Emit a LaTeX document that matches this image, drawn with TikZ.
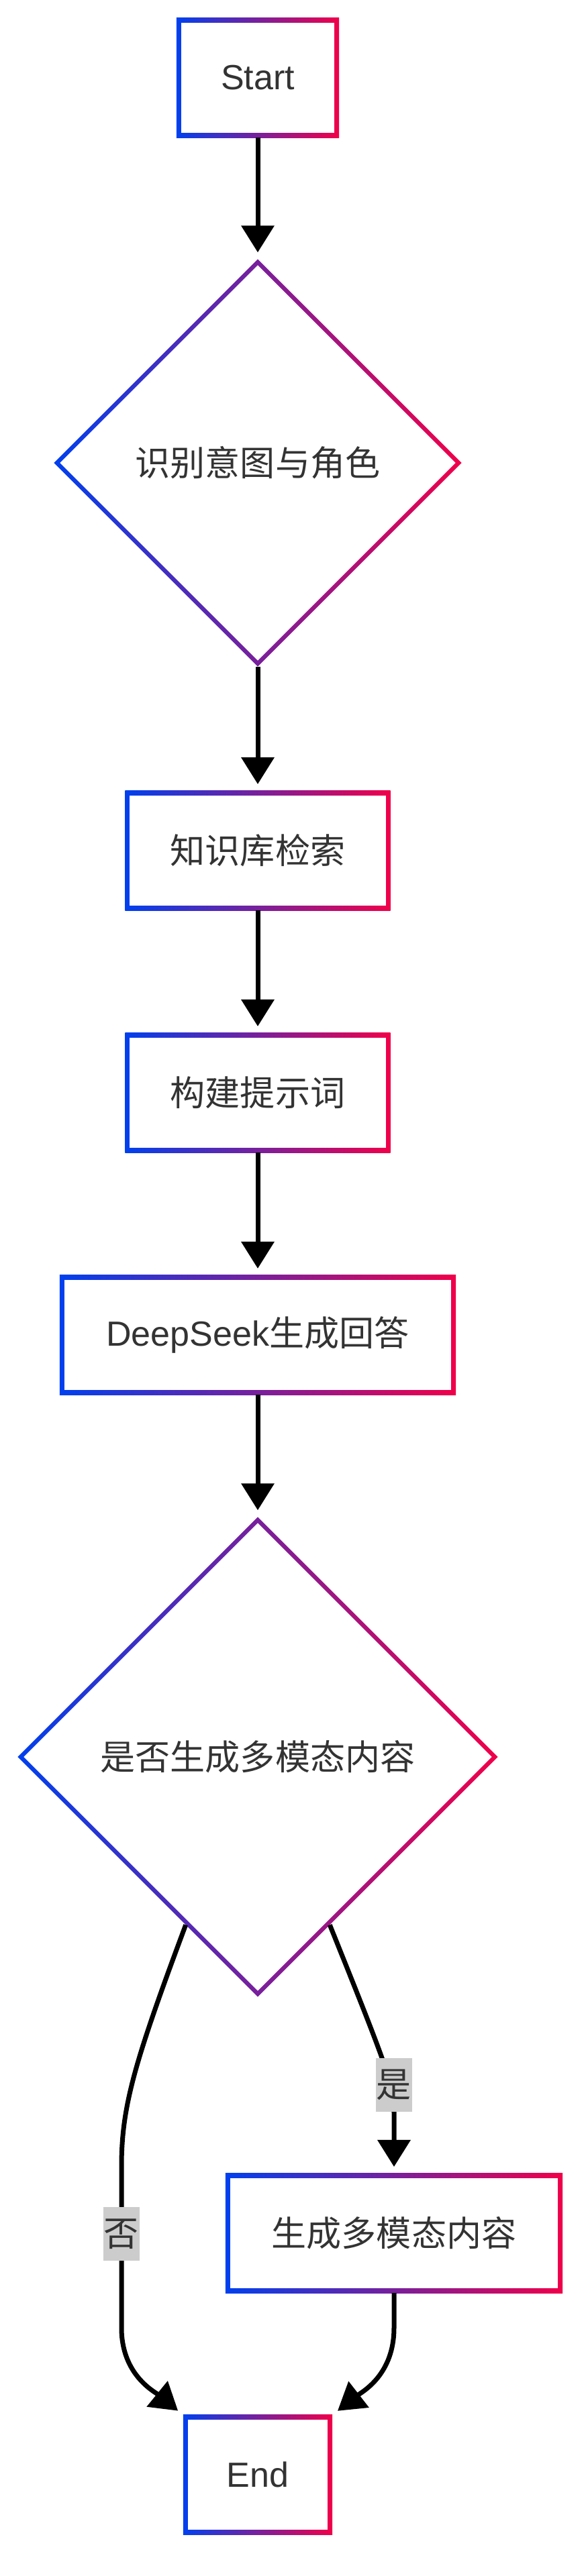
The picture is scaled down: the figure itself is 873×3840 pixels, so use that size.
\documentclass[tikz,border=0pt]{standalone}
\usepackage{fontspec}
\setmainfont{Liberation Sans}
\newfontfamily\cjk{Noto Sans CJK SC}
\usepackage{tikz}
\usetikzlibrary{calc,shapes.geometric,arrows.meta}
\definecolor{gblue}{HTML}{0040EE}
\definecolor{gred}{HTML}{F0004A}
\definecolor{txt}{HTML}{333333}
\definecolor{lblgray}{HTML}{CCCCCC}
\tikzset{>={Triangle[width=4.8mm,length=4mm]}}
\tikzset{
  proc/.style={rectangle, fill=white, inner sep=0pt, outer sep=0pt,
    minimum width=#1, minimum height=1.78cm, text=txt,
    font=\fontsize{14.8pt}{17pt}\selectfont,
    path picture={
      \shade[left color=gblue, right color=gred] (path picture bounding box.south west) rectangle (path picture bounding box.north east);
      \fill[white] ([shift={(0.07cm,0.07cm)}]path picture bounding box.south west) rectangle ([shift={(-0.07cm,-0.07cm)}]path picture bounding box.north east);
    }},
  decision/.style={diamond, aspect=1, fill=white, inner sep=0pt, outer sep=0pt,
    minimum width=#1, minimum height=#1, text=txt,
    font=\fontsize{14.8pt}{17pt}\selectfont,
    path picture={
      \shade[left color=gblue, right color=gred] (path picture bounding box.south west) rectangle (path picture bounding box.north east);
      \fill[white] ([yshift=-0.09cm]path picture bounding box.north) -- ([xshift=-0.09cm]path picture bounding box.east)
        -- ([yshift=0.09cm]path picture bounding box.south) -- ([xshift=0.09cm]path picture bounding box.west) -- cycle;
    }},
  flow/.style={->, line width=0.7mm, shorten >=1mm},
  lbl/.style={fill=lblgray, text=txt, inner sep=0pt, minimum width=5.3mm, minimum height=8mm,
    font=\fontsize{14.8pt}{17pt}\selectfont\cjk},
}

\begin{document}
\begin{tikzpicture}[x=0.01cm, y=-0.01cm]
    \fill[white] (0,0) rectangle (873,3840);
    \useasboundingbox (0,0) rectangle (873,3840);

    % main column
    \node[proc=2.42cm] (start) at (384,116) {Start};
    \node[decision=6.07cm] (intent) at (384,690) {\cjk 识别意图与角色};
    \node[proc=3.95cm] (kb) at (384,1268) {\cjk 知识库检索};
    \node[proc=3.95cm] (prompt) at (384,1629) {\cjk 构建提示词};
    \node[proc=5.9cm] (gen) at (384,1990) {DeepSeek{\cjk 生成回答}};
    \node[decision=7.15cm] (multi) at (384,2619) {\cjk 是否生成多模态内容};
    \node[proc=5.02cm] (media) at (587,3329) {\cjk 生成多模态内容};
    \node[proc=2.22cm] (end) at (384,3689) {End};

    \draw[flow] (start) -- (intent);
    \draw[flow] (intent) -- (kb);
    \draw[flow] (kb) -- (prompt);
    \draw[flow] (prompt) -- (gen);
    \draw[flow] (gen) -- (multi);

    % branches
    \coordinate (yesout) at ($(multi.south)!0.3!(multi.east)$);
    \coordinate (noout) at ($(multi.south)!0.3!(multi.west)$);
    \draw[flow] (yesout) .. controls (580,3090) and (587,3110) .. (587,3150) -- (media.north);
    \draw[flow] (noout) .. controls (200,3075) and (181,3140) .. (181,3230) -- (181,3470)
        .. controls (181,3540) and (230,3565) .. (end.north west);
    \draw[flow] (media.south) -- (587,3470) .. controls (587,3540) and (540,3565) .. (end.north east);

    \node[lbl] (yes) at (587,3108) {是};
    \node[lbl] (no) at (181,3330) {否};
\end{tikzpicture}
\end{document}
